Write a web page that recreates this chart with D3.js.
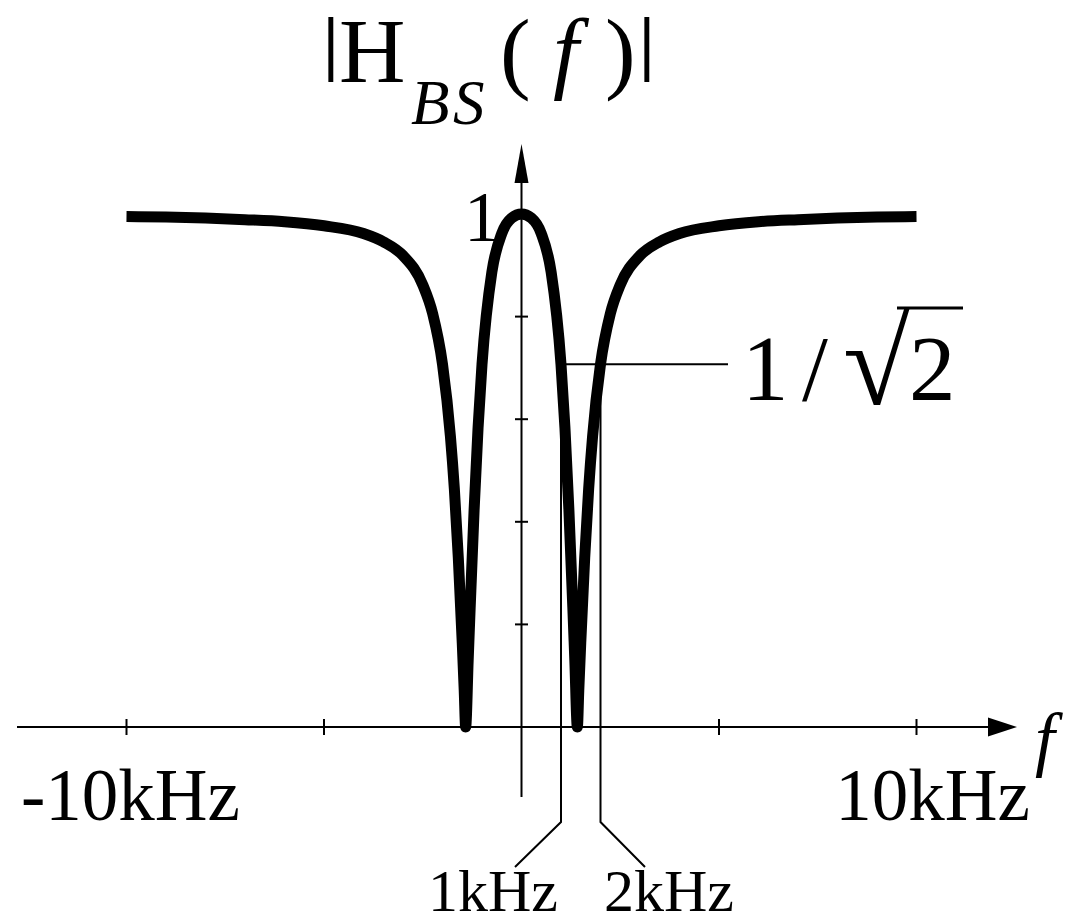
<!DOCTYPE html>
<html>
<head>
<meta charset="utf-8">
<script src="https://cdn.jsdelivr.net/npm/d3@7"></script>
<style>
  html, body { margin: 0; padding: 0; background: #fff; }
  svg { display: block; font-family: "Liberation Serif", "Times New Roman", serif; }
</style>
</head>
<body>
<svg id="chart" width="1068" height="924"></svg>
<script>
// Band-stop magnitude response |H_BS(f)|, frequency in kHz
const freqKHz = [
  -10, -9, -8, -7, -6, -5, -4, -3.5, -3, -2.5, -2.25, -2, -1.8, -1.7, -1.6, -1.5, -1.45, -1.414,
  -1.35, -1.3, -1.2, -1.1, -1, -0.75, -0.5, -0.25, 0, 0.25, 0.5, 0.75, 1, 1.1, 1.2, 1.3, 1.35,
  1.414, 1.45, 1.5, 1.6, 1.7, 1.8, 2, 2.25, 2.5, 3, 3.5, 4, 5, 6, 7, 8, 9, 10
];
const magnitude = [
  0.995, 0.994, 0.992, 0.989, 0.985, 0.977, 0.962, 0.946, 0.919, 0.862, 0.806, 0.707, 0.567, 0.464, 0.330, 0.164, 0.071, 0,
  0.130, 0.232, 0.423, 0.583, 0.707, 0.887, 0.962, 0.992, 1, 0.992, 0.962, 0.887, 0.707, 0.583, 0.423, 0.232, 0.130,
  0, 0.071, 0.164, 0.330, 0.464, 0.567, 0.707, 0.806, 0.862, 0.919, 0.946, 0.962, 0.977, 0.985, 0.989, 0.992, 0.994, 0.995
];

const xTickValues = [-10, -5, 5, 10];
const xTickLabels = ["-10kHz", "", "", "10kHz"];
const yTickValues = [0.2, 0.4, 0.6, 0.8, 1];
const yTopLabel = "1";
const cutoffFreqs = [1, 2];
const cutoffLabels = ["1kHz", "2kHz"];
const cutoffLevel = 0.7071; // 1/√2

const svg = d3.select("#chart");
const x = d3.scaleLinear().domain([-10, 10]).range([126.5, 916.5]);
const y = d3.scaleLinear().domain([0, 1]).range([727, 214]);

const ink = "#000";

// ---- axes ----
const axes = svg.append("g").attr("stroke", ink).attr("stroke-width", 2).attr("fill", "none");
axes.append("line").attr("x1", 17).attr("x2", 990).attr("y1", y(0)).attr("y2", y(0));
axes.append("line").attr("x1", x(0)).attr("x2", x(0)).attr("y1", 180).attr("y2", 797);

svg.append("path")
  .attr("d", `M1017,${y(0)} L988,${y(0) - 9.5} L988,${y(0) + 9.5} Z`)
  .attr("fill", ink);
svg.append("path")
  .attr("d", `M${x(0)},144 L${x(0) - 7},183 L${x(0) + 7},183 Z`)
  .attr("fill", ink);

// x ticks
axes.selectAll(".xt").data(xTickValues).join("line")
  .attr("x1", d => x(d)).attr("x2", d => x(d))
  .attr("y1", y(0) - 8).attr("y2", y(0) + 8);
// y ticks
axes.selectAll(".yt").data(yTickValues).join("line")
  .attr("x1", x(0) - 6.5).attr("x2", x(0) + 6.5)
  .attr("y1", d => y(d)).attr("y2", d => y(d));

// x tick labels
const xLabelShift = { "-10kHz": 4, "10kHz": 16 };
svg.selectAll(".xl").data(xTickValues.map((v, i) => ({ v, t: xTickLabels[i] })).filter(d => d.t))
  .join("text")
  .attr("x", d => x(d.v) + xLabelShift[d.t])
  .attr("y", 820)
  .attr("text-anchor", "middle")
  .attr("font-size", 73)
  .attr("fill", ink)
  .text(d => d.t);

// axis name f
svg.append("text")
  .attr("x", 1035).attr("y", 763)
  .attr("font-size", 71).attr("font-style", "italic").attr("fill", ink)
  .text("f");

// y top label
svg.append("text")
  .attr("x", 500).attr("y", 241)
  .attr("text-anchor", "end")
  .attr("font-size", 72).attr("fill", ink)
  .text(yTopLabel);

// ---- title |H_BS(f)| ----
const title = svg.append("g").attr("fill", ink);
const tBase = 82;
const bars = [["|", 323], ["|", 639]];
title.selectAll(".bar").data(bars).join("text")
  .attr("x", d => d[1]).attr("y", tBase - 15)
  .attr("font-size", 71).attr("font-weight", "bold")
  .text(d => d[0]);
const main = title.append("text").attr("font-size", 92).attr("y", tBase);
main.append("tspan").attr("x", 339).text("H");
main.append("tspan").attr("x", 411).attr("y", tBase + 42).attr("font-size", 63).attr("font-style", "italic").text("B");
main.append("tspan").attr("x", 453).attr("y", tBase + 42).attr("font-size", 63).attr("font-style", "italic").text("S");
main.append("tspan").attr("x", 500).attr("y", tBase).text("(");
main.append("tspan").attr("x", 553).attr("font-style", "italic").text("f");
main.append("tspan").attr("x", 605).text(")");

// ---- cutoff leaders ----
const lead = svg.append("g").attr("stroke", ink).attr("stroke-width", 2).attr("fill", "none");
lead.append("path")
  .attr("d", `M${x(cutoffFreqs[0])},${y(cutoffLevel)} H728`);
const leaderEnds = [515, 645];
lead.selectAll(".cl").data(cutoffFreqs).join("path")
  .attr("d", (d, i) => `M${x(d)},${y(cutoffLevel)} V822 L${leaderEnds[i]},867`);

svg.selectAll(".ct").data(cutoffFreqs).join("text")
  .attr("x", (d, i) => leaderEnds[i] + (i === 0 ? -22 : 24))
  .attr("y", 911)
  .attr("text-anchor", "middle")
  .attr("font-size", 60)
  .attr("fill", ink)
  .text((d, i) => cutoffLabels[i]);

// 1/√2 label
const lvl = svg.append("text").attr("fill", ink).attr("font-size", 93).attr("y", 400);
lvl.append("tspan").attr("x", 742).text("1");
lvl.append("tspan").attr("x", 802).text("/");
lvl.append("tspan").attr("x", 843).attr("y", 404).attr("font-size", 122).text("√");
lvl.append("tspan").attr("x", 909).attr("y", 400).attr("font-size", 93).text("2");
svg.append("line")
  .attr("x1", 897).attr("x2", 963).attr("y1", 308).attr("y2", 308)
  .attr("stroke", ink).attr("stroke-width", 3);

// ---- response curve ----
const line = d3.line()
  .x((d, i) => x(freqKHz[i]))
  .y(d => y(d))
  .curve(d3.curveMonotoneX);
svg.append("path")
  .datum(magnitude)
  .attr("d", line)
  .attr("fill", "none")
  .attr("stroke", ink)
  .attr("stroke-width", 11)
  .attr("stroke-linejoin", "round")
  .attr("stroke-linecap", "butt");
</script>
</body>
</html>
